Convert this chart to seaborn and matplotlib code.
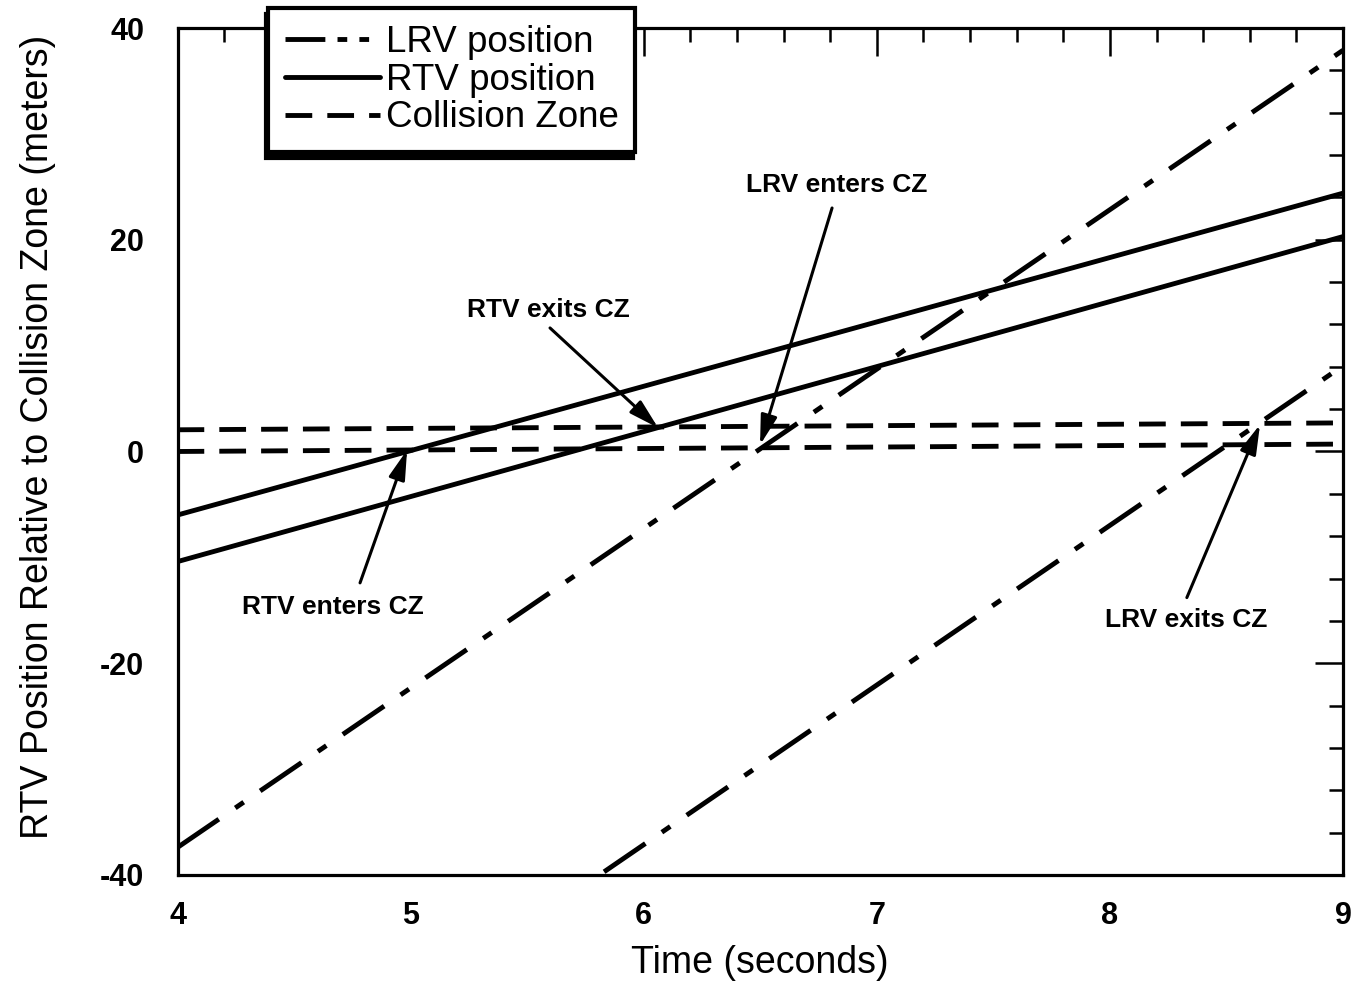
import matplotlib
matplotlib.use("Agg")
import matplotlib.pyplot as plt
import seaborn as sns
from matplotlib.lines import Line2D
from matplotlib.ticker import MultipleLocator

# ---------------- data ----------------
time_span = [4.0, 9.0]
rtv_front = [-6.0, 24.4]
rtv_rear = [-10.4, 20.3]

lrv_front_time = [4.0, 9.0]
lrv_front = [-37.4, 37.9]
lrv_rear_time = [5.83, 9.0]
lrv_rear = [-39.7, 8.1]

cz_time = [4.0, 9.0]
cz_near = [0.0, 0.7]
cz_far = [2.05, 2.7]

x_ticks = [4, 5, 6, 7, 8, 9]
y_ticks = [-40, -20, 0, 20, 40]
legend_labels = ["LRV position", "RTV position", "Collision Zone"]

note_texts = ["RTV exits CZ", "LRV enters CZ", "RTV enters CZ", "LRV exits CZ"]
note_text_xy = [(5.589, 13.37), (6.826, 25.16), (4.667, -14.67), (8.326, -15.9)]
note_tail_xy = [(5.598, 11.67), (6.808, 23.0), (4.783, -12.41), (8.33, -13.8)]
note_head_xy = [(6.062, 2.23), (6.499, 0.62), (4.985, 0.15), (8.644, 2.55)]

# ---------------- style ----------------
sns.set_style("white")
plt.rcParams["font.family"] = ["Liberation Sans", "DejaVu Sans"]
plt.rcParams["axes.unicode_minus"] = False
plt.rcParams["text.color"] = "black"
plt.rcParams["axes.labelcolor"] = "black"
plt.rcParams["xtick.color"] = "black"
plt.rcParams["ytick.color"] = "black"

LW = 3.5
ls_lrv = (0, (10.3, 4.1, 2.1, 4.1))
ls_cz = (0, (5.5, 3.1))
ls_lrv_leg = (0, (8.2, 2.5, 2.0, 2.5, 2.0, 2.5))

fig = plt.figure(figsize=(13.54, 9.86), dpi=100)
ax = fig.add_axes([0.1311, 0.1126, 0.9919 - 0.1311, 0.9716 - 0.1126])

sns.lineplot(x=cz_time, y=cz_near, ax=ax, color="black", lw=LW, linestyle=ls_cz, legend=False)
sns.lineplot(x=cz_time, y=cz_far, ax=ax, color="black", lw=LW, linestyle=ls_cz, legend=False)
sns.lineplot(x=time_span, y=rtv_front, ax=ax, color="black", lw=LW, linestyle="-", legend=False)
sns.lineplot(x=time_span, y=rtv_rear, ax=ax, color="black", lw=LW, linestyle="-", legend=False)
sns.lineplot(x=lrv_front_time, y=lrv_front, ax=ax, color="black", lw=LW, linestyle=ls_lrv, legend=False)
sns.lineplot(x=lrv_rear_time, y=lrv_rear, ax=ax, color="black", lw=LW, linestyle=ls_lrv, legend=False)

for lab, txy, tail, head in zip(note_texts, note_text_xy, note_tail_xy, note_head_xy):
    ax.text(txy[0], txy[1], lab, ha="center", va="center", fontsize=19,
            fontweight="bold", color="black")
    ax.annotate("", xy=head, xytext=tail,
                arrowprops=dict(arrowstyle="-|>,head_length=0.9,head_width=0.25",
                                color="black", lw=2.2, mutation_scale=20,
                                shrinkA=0, shrinkB=0))

ax.set_xlim(4, 9)
ax.set_ylim(-40, 40)
ax.set_xticks(x_ticks)
ax.set_yticks(y_ticks)
ax.xaxis.set_minor_locator(MultipleLocator(0.2))
ax.yaxis.set_minor_locator(MultipleLocator(4))
ax.tick_params(which="both", direction="in", top=True, right=True, color="black",
               labelcolor="black")
ax.tick_params(which="major", length=20, width=1.8, labelsize=22, pad=19)
ax.tick_params(which="minor", length=10, width=1.8)
ax.tick_params(axis="y", which="major", pad=24)
for t in ax.get_xticklabels() + ax.get_yticklabels():
    t.set_fontweight("bold")
for sp in ax.spines.values():
    sp.set_visible(True)
    sp.set_color("black")
    sp.set_linewidth(2.3)

ax.set_xlabel("Time (seconds)", fontsize=27, color="black")
ax.set_ylabel("RTV Position Relative to Collision Zone (meters)", fontsize=27, color="black")
ax.xaxis.set_label_coords(0.5, -0.083)
ax.yaxis.set_label_coords(-0.104, 0.517)

handles = [
    Line2D([], [], color="black", lw=LW, linestyle=ls_lrv_leg),
    Line2D([], [], color="black", lw=LW, linestyle="-"),
    Line2D([], [], color="black", lw=LW, linestyle=ls_cz),
]
leg = ax.legend(handles, legend_labels, loc="upper left",
                bbox_to_anchor=(0.0777, 1.0236), borderaxespad=0,
                frameon=True, fancybox=False, edgecolor="black", framealpha=1,
                shadow={"ox": -1.5, "oy": -4, "facecolor": "black",
                        "edgecolor": "black", "alpha": 1},
                fontsize=26.5, handlelength=2.6, handletextpad=0.15,
                labelspacing=0.08, borderpad=0.45)
leg.get_frame().set_linewidth(3)
leg.set_zorder(10)
for t in leg.get_texts():
    t.set_color("black")

fig.savefig("out.png", dpi=100, facecolor="white")
